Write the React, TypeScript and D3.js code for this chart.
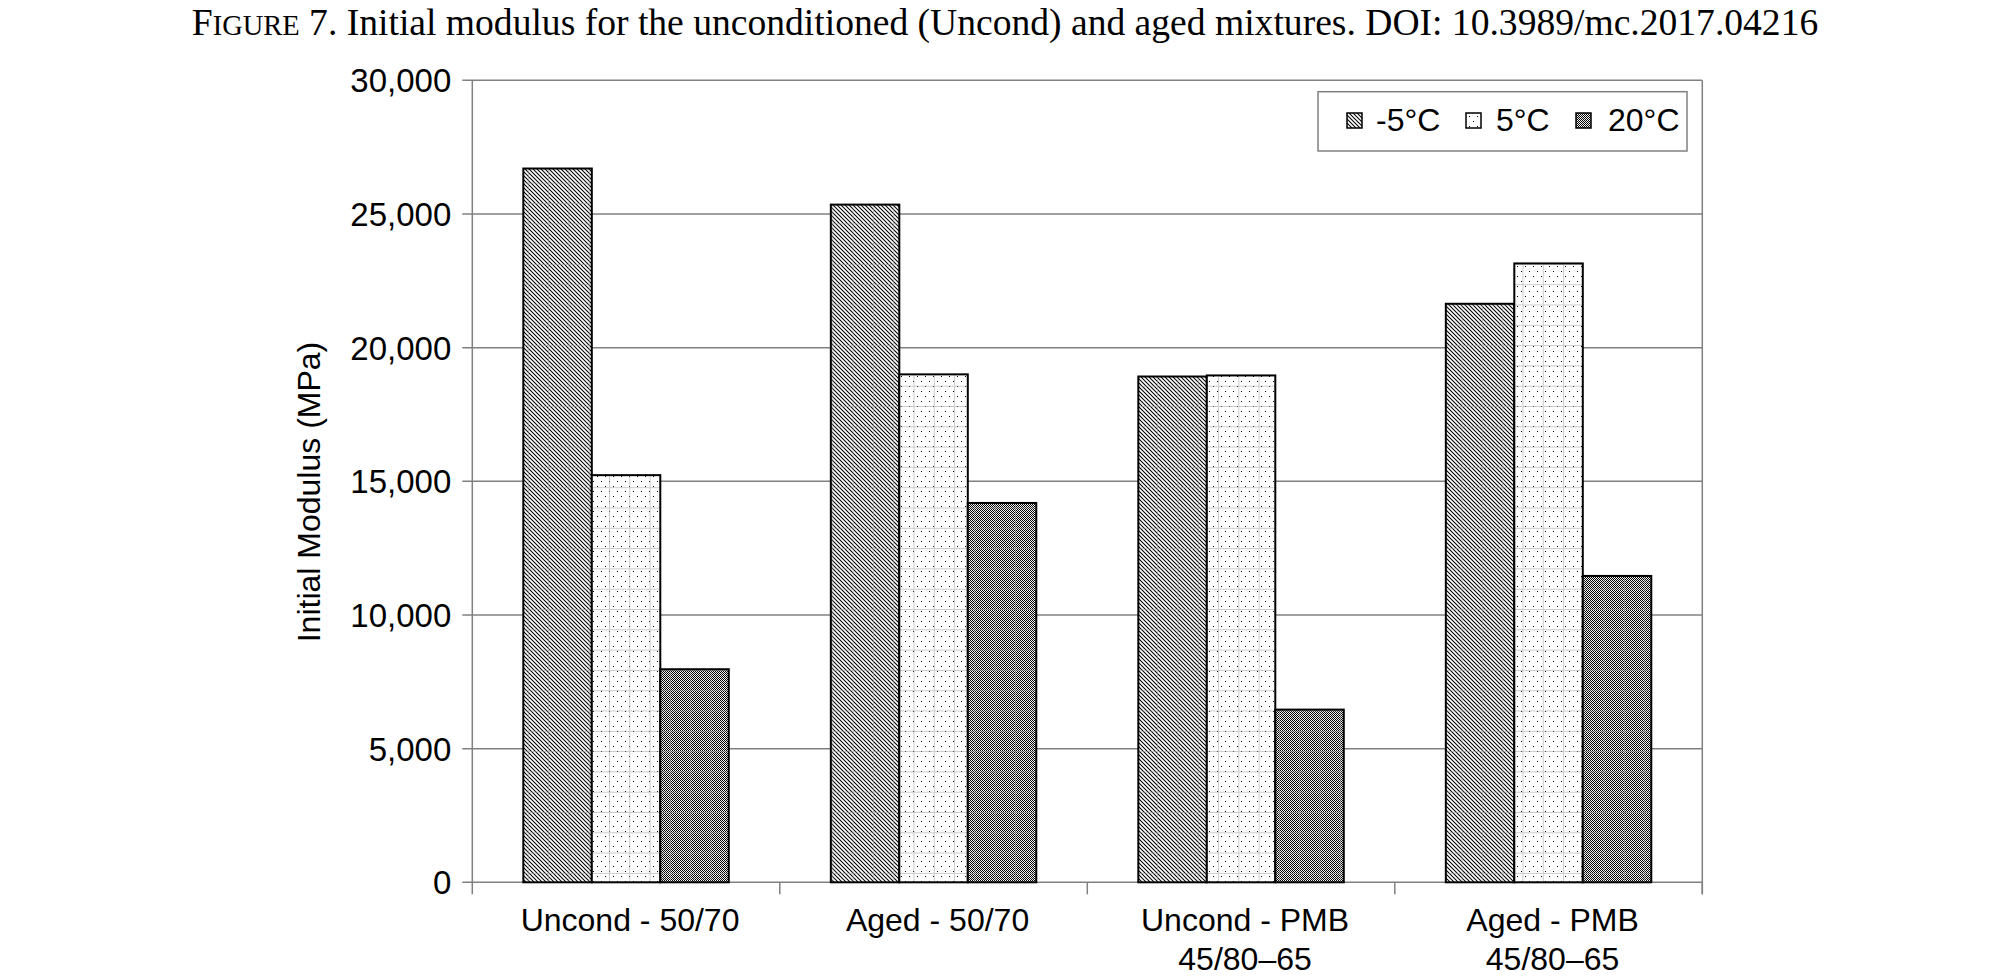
import * as d3 from "d3"

// chart data
const categories = [["Uncond - 50/70"], ["Aged - 50/70"], ["Uncond - PMB", "45/80–65"], ["Aged - PMB", "45/80–65"]]
const seriesNames = ["-5°C", "5°C", "20°C"]
const minus5 = [26700, 25350, 18920, 21640]
const plus5 = [15230, 19000, 18960, 23150]
const plus20 = [7970, 14190, 6460, 11460]
const yTicks = [0, 5000, 10000, 15000, 20000, 25000, 30000]

const seriesValues = [minus5, plus5, plus20]
const patternIds = ["pat-diag", "pat-dots", "pat-check"]

const W = 1996
const H = 980
const margin = { left: 472.3, right: W - 1702.3, top: 80.3, bottom: H - 882.3 }
const font = "'Liberation Sans', Arial, sans-serif"
const grid = "#808080"

export default function App() {
  const x0 = d3
    .scaleBand<number>()
    .domain(categories.map((_, i) => i))
    .range([margin.left, W - margin.right])
    .paddingInner(0)
    .paddingOuter(0)

  const x1 = d3
    .scaleBand<number>()
    .domain(seriesNames.map((_, i) => i))
    .range([0, x0.bandwidth()])
    .paddingInner(0)
    .paddingOuter(0.745)

  const y = d3
    .scaleLinear()
    .domain([0, 30000])
    .range([H - margin.bottom, margin.top])

  const fmt = d3.format(",")
  const left = margin.left
  const right = W - margin.right
  const bottom = y(0)

  // legend layout
  const legendItems = [
    { sx: 1347, tx: 1376 },
    { sx: 1466, tx: 1496 },
    { sx: 1576, tx: 1608 },
  ]

  return (
    <svg width={W} height={H} style={{ position: "absolute", left: 0, top: 0, background: "#fff" }}>
      <defs>
        <pattern id="pat-diag" width={4} height={4} patternUnits="userSpaceOnUse">
          <rect width={4} height={4} fill="#fff" />
          <path d="M-1,-1 L5,5 M-1,3 L1,5 M3,-1 L5,1" stroke="#000" strokeWidth={1.05} />
        </pattern>
        <pattern id="pat-dots" width={8} height={10} patternUnits="userSpaceOnUse">
          <rect width={8} height={10} fill="#fff" />
          <rect x={1} y={1} width={1} height={1} fill="#000" />
          <rect x={5} y={6} width={1} height={1} fill="#000" />
        </pattern>
        <pattern id="pat-check" width={2} height={2} patternUnits="userSpaceOnUse">
          <rect width={2} height={2} fill="#f2f2f2" />
          <rect x={0} y={0} width={1} height={1} fill="#000" />
          <rect x={1} y={1} width={1} height={1} fill="#000" />
        </pattern>
        <pattern id="pat-grid" width={20.3} height={20.3} patternUnits="userSpaceOnUse">
          <path d="M0.5,0 V20.3 M0,0.5 H20.3" stroke="#a0a0a0" strokeWidth={1} fill="none" />
        </pattern>
      </defs>

      {/* title */}
      <text x={1005} y={35} textAnchor="middle" fontFamily="'Liberation Serif', 'Times New Roman', serif" fontSize={37.6}>
        <tspan>F</tspan>
        <tspan fontSize={28.5}>IGURE</tspan>
        <tspan> 7. Initial modulus for the unconditioned (Uncond) and aged mixtures. DOI: 10.3989/mc.2017.04216</tspan>
      </text>

      {/* gridlines */}
      {yTicks.map((t) => (
        <line key={t} x1={left - 10} x2={right} y1={y(t)} y2={y(t)} stroke={grid} strokeWidth={1.5} />
      ))}

      {/* plot border right, y axis */}
      <line x1={right} x2={right} y1={y(30000)} y2={bottom + 12} stroke={grid} strokeWidth={1.5} />
      <line x1={left} x2={left} y1={y(30000)} y2={bottom + 12} stroke={grid} strokeWidth={1.5} />

      {/* category ticks */}
      {categories.map((_, i) => (
        <line
          key={i}
          x1={(x0(i) as number) + x0.bandwidth()}
          x2={(x0(i) as number) + x0.bandwidth()}
          y1={bottom}
          y2={bottom + 12}
          stroke={grid}
          strokeWidth={1.5}
        />
      ))}

      {/* y tick labels */}
      {yTicks.map((t) => (
        <text key={t} x={left - 21} y={y(t)} dy="0.36em" textAnchor="end" fontFamily={font} fontSize={33}>
          {fmt(t)}
        </text>
      ))}

      {/* y axis title */}
      <text transform={`translate(320,492) rotate(-90)`} textAnchor="middle" fontFamily={font} fontSize={32}>
        Initial Modulus (MPa)
      </text>

      {/* bars */}
      {categories.map((_, ci) =>
        seriesValues.map((vals, si) => {
          const bx = (x0(ci) as number) + (x1(si) as number)
          const by = y(vals[ci])
          const bw = x1.bandwidth()
          const bh = bottom - by
          return (
            <g key={`${ci}-${si}`}>
              <rect x={bx} y={by} width={bw} height={bh} fill={`url(#${patternIds[si]})`} />
              <rect x={bx} y={by} width={bw} height={bh} fill="url(#pat-grid)" opacity={0.55} />
              <rect x={bx} y={by} width={bw} height={bh} fill="none" stroke="#000" strokeWidth={2} />
            </g>
          )
        })
      )}

      {/* x labels */}
      {categories.map((lines, i) => {
        const cx = (x0(i) as number) + x0.bandwidth() / 2 + 4
        return (
          <text key={i} x={cx} y={931} textAnchor="middle" fontFamily={font} fontSize={32}>
            {lines.map((l, li) => (
              <tspan key={li} x={cx} dy={li === 0 ? 0 : 39}>
                {l}
              </tspan>
            ))}
          </text>
        )
      })}

      {/* legend */}
      <rect x={1318} y={91.7} width={369} height={59.3} fill="#fff" stroke={grid} strokeWidth={1.5} />
      {seriesNames.map((name, i) => (
        <g key={name}>
          <rect x={legendItems[i].sx} y={113} width={15} height={15} fill={`url(#${patternIds[i]})`} stroke="#000" strokeWidth={1.5} />
          <text x={legendItems[i].tx} y={131} fontFamily={font} fontSize={32}>
            {name}
          </text>
        </g>
      ))}
    </svg>
  )
}
